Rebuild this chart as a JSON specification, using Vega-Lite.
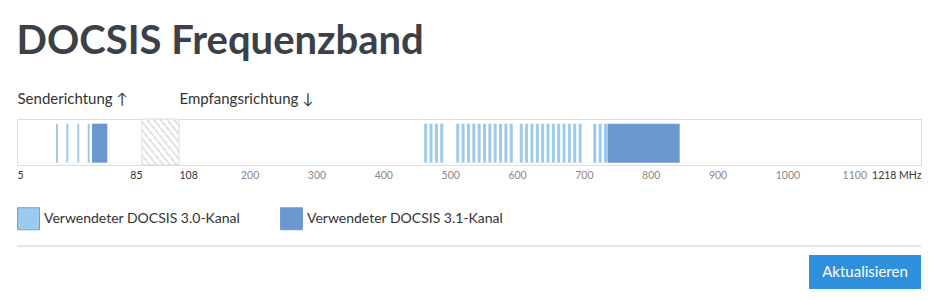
{
  "$schema": "https://vega.github.io/schema/vega-lite/v6.json",
  "background": "white",
  "padding": {"left": 16, "right": 16, "top": 21, "bottom": 4},
  "config": {"font": "Lato", "view": {"stroke": null}},
  "title": {"text": "DOCSIS Frequenzband", "anchor": "start", "fontSize": 40, "fontWeight": "bold", "color": "#3c4147", "font": "Lato", "offset": 29},
  "datasets": {
    "gap": [{"start": 85, "end": 108}],
    "scqam": [
      {"dir": "up", "type": "Verwendeter DOCSIS 3.0-Kanal", "f": 30.6},
      {"dir": "up", "type": "Verwendeter DOCSIS 3.0-Kanal", "f": 37.2},
      {"dir": "up", "type": "Verwendeter DOCSIS 3.0-Kanal", "f": 44.2},
      {"dir": "up", "type": "Verwendeter DOCSIS 3.0-Kanal", "f": 50.9},
      {"dir": "down", "type": "Verwendeter DOCSIS 3.0-Kanal", "f": 477},
      {"dir": "down", "type": "Verwendeter DOCSIS 3.0-Kanal", "f": 485},
      {"dir": "down", "type": "Verwendeter DOCSIS 3.0-Kanal", "f": 493},
      {"dir": "down", "type": "Verwendeter DOCSIS 3.0-Kanal", "f": 501},
      {"dir": "down", "type": "Verwendeter DOCSIS 3.0-Kanal", "f": 525},
      {"dir": "down", "type": "Verwendeter DOCSIS 3.0-Kanal", "f": 533},
      {"dir": "down", "type": "Verwendeter DOCSIS 3.0-Kanal", "f": 541},
      {"dir": "down", "type": "Verwendeter DOCSIS 3.0-Kanal", "f": 549},
      {"dir": "down", "type": "Verwendeter DOCSIS 3.0-Kanal", "f": 557},
      {"dir": "down", "type": "Verwendeter DOCSIS 3.0-Kanal", "f": 565},
      {"dir": "down", "type": "Verwendeter DOCSIS 3.0-Kanal", "f": 573},
      {"dir": "down", "type": "Verwendeter DOCSIS 3.0-Kanal", "f": 581},
      {"dir": "down", "type": "Verwendeter DOCSIS 3.0-Kanal", "f": 589},
      {"dir": "down", "type": "Verwendeter DOCSIS 3.0-Kanal", "f": 597},
      {"dir": "down", "type": "Verwendeter DOCSIS 3.0-Kanal", "f": 605},
      {"dir": "down", "type": "Verwendeter DOCSIS 3.0-Kanal", "f": 620},
      {"dir": "down", "type": "Verwendeter DOCSIS 3.0-Kanal", "f": 628},
      {"dir": "down", "type": "Verwendeter DOCSIS 3.0-Kanal", "f": 636},
      {"dir": "down", "type": "Verwendeter DOCSIS 3.0-Kanal", "f": 644},
      {"dir": "down", "type": "Verwendeter DOCSIS 3.0-Kanal", "f": 652},
      {"dir": "down", "type": "Verwendeter DOCSIS 3.0-Kanal", "f": 660},
      {"dir": "down", "type": "Verwendeter DOCSIS 3.0-Kanal", "f": 668},
      {"dir": "down", "type": "Verwendeter DOCSIS 3.0-Kanal", "f": 676},
      {"dir": "down", "type": "Verwendeter DOCSIS 3.0-Kanal", "f": 684},
      {"dir": "down", "type": "Verwendeter DOCSIS 3.0-Kanal", "f": 692},
      {"dir": "down", "type": "Verwendeter DOCSIS 3.0-Kanal", "f": 700},
      {"dir": "down", "type": "Verwendeter DOCSIS 3.0-Kanal", "f": 708},
      {"dir": "down", "type": "Verwendeter DOCSIS 3.0-Kanal", "f": 730},
      {"dir": "down", "type": "Verwendeter DOCSIS 3.0-Kanal", "f": 738},
      {"dir": "down", "type": "Verwendeter DOCSIS 3.0-Kanal", "f": 746}
    ],
    "ofdm": [
      {"dir": "up", "type": "Verwendeter DOCSIS 3.1-Kanal", "start": 53.0, "end": 62.8},
      {"dir": "down", "type": "Verwendeter DOCSIS 3.1-Kanal", "start": 749, "end": 857}
    ],
    "button": [{"label": "Aktualisieren"}]
  },
  "spacing": 12,
  "resolve": {"scale": {"color": "independent"}, "legend": {"color": "independent"}},
  "vconcat": [
    {
      "width": 904,
      "height": 46,
      "view": {"stroke": "#dcdcdc", "strokeWidth": 1},
      "resolve": {"axis": {"x": "independent"}},
      "layer": [
        {
          "data": {"name": "gap"},
          "mark": {
            "type": "rect",
            "stroke": "#dcdcdc",
            "strokeWidth": 1,
            "fill": {
              "gradient": "linear", "x1": 0, "y1": 1, "x2": 1, "y2": 0,
              "stops": [
                {"offset": 0, "color": "#e2e2e2"}, {"offset": 0.0318, "color": "#e2e2e2"}, {"offset": 0.0318, "color": "#ffffff"}, {"offset": 0.0909, "color": "#ffffff"},
                {"offset": 0.0909, "color": "#e2e2e2"}, {"offset": 0.1227, "color": "#e2e2e2"}, {"offset": 0.1227, "color": "#ffffff"}, {"offset": 0.1818, "color": "#ffffff"},
                {"offset": 0.1818, "color": "#e2e2e2"}, {"offset": 0.2136, "color": "#e2e2e2"}, {"offset": 0.2136, "color": "#ffffff"}, {"offset": 0.2727, "color": "#ffffff"},
                {"offset": 0.2727, "color": "#e2e2e2"}, {"offset": 0.3045, "color": "#e2e2e2"}, {"offset": 0.3045, "color": "#ffffff"}, {"offset": 0.3636, "color": "#ffffff"},
                {"offset": 0.3636, "color": "#e2e2e2"}, {"offset": 0.3955, "color": "#e2e2e2"}, {"offset": 0.3955, "color": "#ffffff"}, {"offset": 0.4545, "color": "#ffffff"},
                {"offset": 0.4545, "color": "#e2e2e2"}, {"offset": 0.4864, "color": "#e2e2e2"}, {"offset": 0.4864, "color": "#ffffff"}, {"offset": 0.5455, "color": "#ffffff"},
                {"offset": 0.5455, "color": "#e2e2e2"}, {"offset": 0.5773, "color": "#e2e2e2"}, {"offset": 0.5773, "color": "#ffffff"}, {"offset": 0.6364, "color": "#ffffff"},
                {"offset": 0.6364, "color": "#e2e2e2"}, {"offset": 0.6682, "color": "#e2e2e2"}, {"offset": 0.6682, "color": "#ffffff"}, {"offset": 0.7273, "color": "#ffffff"},
                {"offset": 0.7273, "color": "#e2e2e2"}, {"offset": 0.7591, "color": "#e2e2e2"}, {"offset": 0.7591, "color": "#ffffff"}, {"offset": 0.8182, "color": "#ffffff"},
                {"offset": 0.8182, "color": "#e2e2e2"}, {"offset": 0.85, "color": "#e2e2e2"}, {"offset": 0.85, "color": "#ffffff"}, {"offset": 0.9091, "color": "#ffffff"},
                {"offset": 0.9091, "color": "#e2e2e2"}, {"offset": 0.9409, "color": "#e2e2e2"}, {"offset": 0.9409, "color": "#ffffff"}, {"offset": 1, "color": "#ffffff"}
              ]
            }
          },
          "encoding": {
            "x": {
              "field": "start", "type": "quantitative",
              "scale": {"domain": [5, 85, 108, 1218], "range": [0, 125, 162, 904], "zero": false, "nice": false, "padding": 0},
              "axis": {
                "orient": "top", "values": [5, 108], "title": null,
                "labelExpr": "datum.value == 5 ? 'Senderichtung ↑' : 'Empfangsrichtung ↓'",
                "labelAlign": "left", "labelBaseline": "bottom", "labelFontSize": 15, "labelColor": "#333333",
                "labelPadding": 13, "ticks": false, "tickSize": 0, "domain": false, "grid": false,
                "labelOverlap": false, "labelFlush": false, "labelBound": false
              }
            },
            "x2": {"field": "end"}
          }
        },
        {
          "data": {"name": "scqam"},
          "mark": {"type": "bar", "orient": "vertical"},
          "encoding": {
            "x": {
              "field": "f", "type": "quantitative",
              "axis": {
                "orient": "bottom", "title": null, "format": "d",
                "values": [5, 85, 108, 200, 300, 400, 500, 600, 700, 800, 900, 1000, 1100, 1218],
                "labelExpr": "datum.value == 1218 ? datum.label + ' MHz' : datum.label",
                "labelAlign": {"condition": {"test": "datum.value == 85 || datum.value == 1218", "value": "right"}, "value": "left"},
                "labelColor": {"condition": {"test": "datum.value <= 108 || datum.value == 1218", "value": "#333333"}, "value": "#888888"},
                "labelBaseline": "top", "labelFontSize": 10.5, "labelPadding": 5,
                "ticks": false, "tickSize": 0, "domain": false, "grid": false,
                "labelOverlap": false, "labelFlush": false, "labelBound": false
              }
            },
            "y": {"datum": 0.898, "type": "quantitative", "scale": {"domain": [0, 1]}, "axis": null},
            "y2": {"datum": 0.05},
            "size": {"condition": {"test": "datum.dir === 'up'", "value": 2}, "value": 3},
            "color": {
              "field": "type", "type": "nominal",
              "scale": {"domain": ["Verwendeter DOCSIS 3.0-Kanal", "Verwendeter DOCSIS 3.1-Kanal"], "range": ["#9ecaec", "#6a97cf"]},
              "legend": {
                "orient": "bottom", "direction": "horizontal", "title": null,
                "symbolType": "square", "symbolSize": 484, "symbolStrokeColor": "#6f9fd4", "symbolStrokeWidth": 1,
                "labelFontSize": 14, "labelColor": "#333333", "labelOffset": 4, "labelLimit": 400, "columnPadding": 37,
                "offset": 26, "padding": 0
              }
            }
          }
        },
        {
          "data": {"name": "ofdm"},
          "mark": {"type": "rect"},
          "encoding": {
            "x": {"field": "start", "type": "quantitative", "axis": null},
            "x2": {"field": "end"},
            "y": {"datum": 0.898, "type": "quantitative", "axis": null},
            "y2": {"datum": 0.05},
            "color": {"field": "type", "type": "nominal"}
          }
        }
      ]
    },
    {
      "spacing": 8,
      "vconcat": [
        {
          "width": 904,
          "height": 2,
          "view": {"fill": "#e6e6e6", "stroke": null},
          "data": {"values": []},
          "mark": "rect",
          "encoding": {}
        },
        {
          "spacing": 20,
          "hconcat": [
            {
              "width": 772,
              "height": 34,
              "data": {"values": []},
              "mark": "rect",
              "encoding": {}
            },
            {
              "width": 112,
              "height": 34,
              "view": {"fill": "#2e8fdc", "stroke": null},
              "data": {"name": "button"},
              "mark": {"type": "text", "color": "#ffffff", "fontSize": 15, "font": "Lato"},
              "encoding": {"text": {"field": "label", "type": "nominal"}}
            }
          ]
        }
      ]
    }
  ]
}
